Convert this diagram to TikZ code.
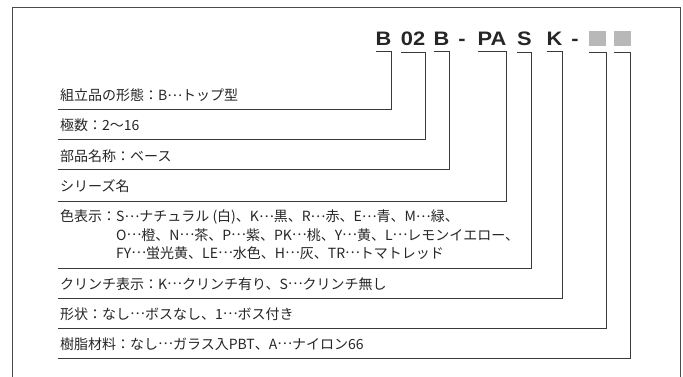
\documentclass[tikz,border=0pt]{standalone}
\usepackage{fontspec}
\usepackage{xcolor}
\usepackage{tikz}
\usetikzlibrary{
  positioning,
  calc
}
\setmainfont{Noto Sans CJK JP}
\newfontfamily\codefont[FakeStretch=1.12]{Liberation Sans}
\definecolor{LineGray}{HTML}{3A3A3A}
\definecolor{FrameGray}{HTML}{4A4A4A}
\definecolor{BoxGray}{HTML}{B8B8B8}
\newcommand{\mdots}{\raisebox{0.3em}{…}}
\tikzset{
  codepart/.style={
    anchor=base,
    inner sep=0pt,
    outer xsep=0pt,
    outer ysep=6pt,
    font=\codefont\bfseries\fontsize{19.5}{20}\selectfont,
    text=black!85
  },
  greybox/.style={
    fill=BoxGray,
    inner sep=0pt,
    outer xsep=0pt,
    outer ysep=6pt,
    minimum width=17pt,
    minimum height=15pt
  },
  rowtext/.style={
    anchor=base west,
    inner sep=0pt,
    align=left,
    font=\fontsize{14}{18}\selectfont,
    text=black!85
  },
  leader/.style={
    draw=LineGray,
    line width=1pt
  },
  frame/.style={
    draw=FrameGray,
    line width=1pt
  }
}

\begin{document}
\begin{tikzpicture}[x=1pt, y=-1pt]

  \useasboundingbox (0,0) rectangle (683,377);

  \draw[frame] (12,377) -- (12,8) -- (680,8) -- (680,377);

  % part number
  \node[codepart] (cB)  at (383.5,46) {B};
  \node[codepart] (c02) at (413,46)   {02};
  \node[codepart] (cT)  at (441.5,46) {B};
  \node[codepart] (d1)  at (462,46)   {-};
  \node[codepart] (cPA) at (492,46)   {PA};
  \node[codepart] (cS)  at (524.5,46) {S};
  \node[codepart] (cK)  at (554.5,46) {K};
  \node[codepart] (d2)  at (575,46)   {-};
  \node[greybox]  (cX1) at (597.5,39) {};
  \node[greybox]  (cX2) at (622,39)   {};

  % left ends of the row lines
  \coordinate (l1) at (58,110);
  \coordinate (l2) at (58,140);
  \coordinate (l3) at (58,170);
  \coordinate (l4) at (58,201);
  \coordinate (l5) at (58,268);
  \coordinate (l6) at (58,298);
  \coordinate (l7) at (58,328);
  \coordinate (l8) at (58,358);

  \node[rowtext] (r1) at (60,101) {組立品の形態：B\mdots トップ型};
  \node[rowtext] (r2) at (60,131) {極数：2〜16};
  \node[rowtext] (r3) at (60,161) {部品名称：ベース};
  \node[rowtext] (r4) at (60,192) {シリーズ名};
  % base of a multi-line node is its last line
  \node[rowtext] (r5) at (60,258) {
    色表示：S\mdots ナチュラル (白)、K\mdots 黒、R\mdots 赤、E\mdots 青、M\mdots 緑、\\
    \hphantom{色表示：}O\mdots 橙、N\mdots 茶、P\mdots 紫、PK\mdots 桃、Y\mdots 黄、L\mdots レモンイエロー、\\
    \hphantom{色表示：}FY\mdots 蛍光黄、LE\mdots 水色、H\mdots 灰、TR\mdots トマトレッド
  };
  \node[rowtext] (r6) at (60,289) {クリンチ表示：K\mdots クリンチ有り、S\mdots クリンチ無し};
  \node[rowtext] (r7) at (60,319) {形状：なし\mdots ボスなし、1\mdots ボス付き};
  \node[rowtext] (r8) at (60,349) {樹脂材料：なし\mdots ガラス入PBT、A\mdots ナイロン66};

  \draw[leader] (cB.south west)  -- (cB.south east)  |- (l1);
  \draw[leader] (c02.south west) -- (c02.south east) |- (l2);
  \draw[leader] (cT.south west)  -- (cT.south east)  |- (l3);
  \draw[leader] (cPA.south west) -- (cPA.south east) |- (l4);
  \draw[leader] (cS.south west)  -- (cS.south east)  |- (l5);
  \draw[leader] (cK.south west)  -- (cK.south east)  |- (l6);
  \draw[leader] (cX1.south west) -- (cX1.south east) |- (l7);
  \draw[leader] (cX2.south west) -- (cX2.south east) |- (l8);

\end{tikzpicture}
\end{document}
